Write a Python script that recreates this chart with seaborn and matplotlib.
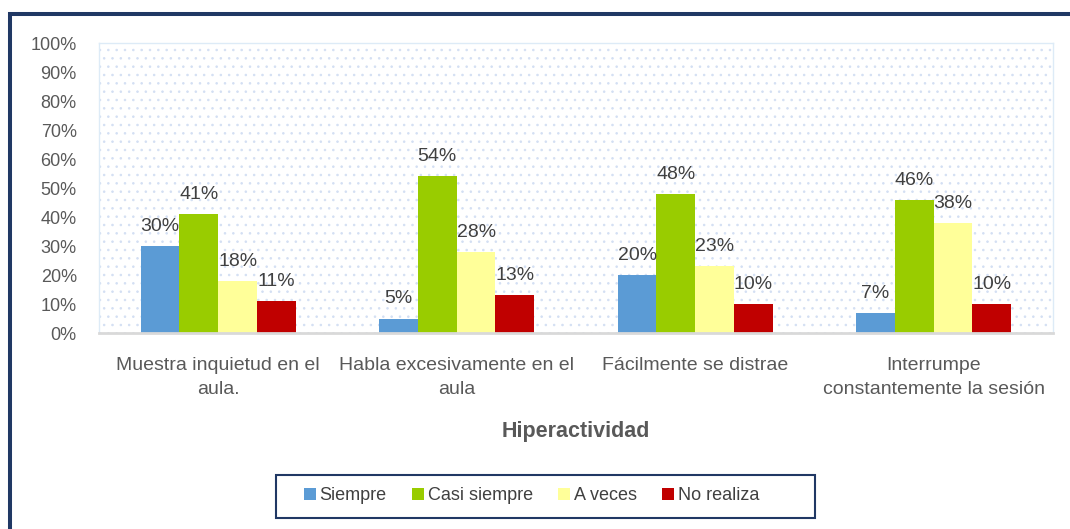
import pandas as pd
import matplotlib.pyplot as plt
import seaborn as sns
from matplotlib.patches import Rectangle
from matplotlib.ticker import FuncFormatter

categorias = ["Muestra inquietud en el\naula.", "Habla excesivamente en el\naula",
              "Fácilmente se distrae", "Interrumpe\nconstantemente la sesión"]
series = ["Siempre", "Casi siempre", "A veces", "No realiza"]
siempre = [30, 5, 20, 7]
casi_siempre = [41, 54, 48, 46]
a_veces = [18, 28, 23, 38]
no_realiza = [11, 13, 10, 10]
colores = ["#5B9BD5", "#99CC00", "#FFFF99", "#C00000"]

valores = [siempre, casi_siempre, a_veces, no_realiza]
filas = []
for s, vals in zip(series, valores):
    for c, v in zip(categorias, vals):
        filas.append({"categoria": c, "serie": s, "valor": v})
df = pd.DataFrame(filas)

sns.set_style("white")
plt.rcParams['font.family'] = ['Liberation Sans', 'DejaVu Sans']
plt.rcParams['hatch.linewidth'] = 0.6

fig = plt.figure(figsize=(10.7, 5.29), dpi=100)
ax = fig.add_axes([0.0925, 0.3705, 0.8916, 0.548])

sns.barplot(data=df, x="categoria", y="valor", hue="serie", order=categorias,
            hue_order=series, palette=colores, width=0.65, gap=0,
            saturation=1, linewidth=0, ax=ax)

# dotted background
ax.patch.set_hatch('..')
ax.patch.set_edgecolor('#D3DFF3')
ax.patch.set_linewidth(0)

for cont, vals in zip(ax.containers, valores):
    ax.bar_label(cont, labels=[f"{v}%" for v in vals], padding=8,
                 fontsize=14, color="#404040")

ax.set_ylim(0, 100)
ax.set_xlim(-0.5, 3.5)
ax.set_yticks(range(0, 101, 10))
ax.yaxis.set_major_formatter(FuncFormatter(lambda v, p: f"{v:.0f}%"))
ax.tick_params(axis='y', length=0, pad=16, labelsize=13, labelcolor="#595959")
ax.set_xticks(range(len(categorias)))
ax.set_xticklabels(categorias, linespacing=1.6)
ax.tick_params(axis='x', length=0, pad=17, labelsize=14, labelcolor="#595959")

ax.set_ylabel("")
ax.set_xlabel("Hiperactividad", fontsize=15.5, fontweight="bold",
              color="#595959", labelpad=16)

for side in ["left", "top", "right"]:
    ax.spines[side].set_color("#DDEBF7")
    ax.spines[side].set_linewidth(1)
ax.spines["bottom"].set_color("#D9D9D9")
ax.spines["bottom"].set_linewidth(2)

handles, labels = ax.get_legend_handles_labels()
leg = ax.legend(handles, labels, loc="center", bbox_to_anchor=(531.5 / 1070, 1 - 496 / 529),
                bbox_transform=fig.transFigure, ncol=4, frameon=False,
                fontsize=13, handlelength=0.67, handleheight=0.67,
                handletextpad=0.2, columnspacing=1.4,
                labelcolor="#404040")

# legend box and outer frame
fig.patches.append(Rectangle((276 / 1070, 1 - 518 / 529), 539 / 1070, 43 / 529,
                             transform=fig.transFigure, fill=False,
                             edgecolor="#203864", linewidth=1.5))
fig.patches.append(Rectangle((10 / 1070, -0.1), 1.2, 1 - 14 / 529 + 0.1,
                             transform=fig.transFigure, fill=False,
                             edgecolor="#203864", linewidth=2.9))

fig.savefig("out.png", dpi=100)
